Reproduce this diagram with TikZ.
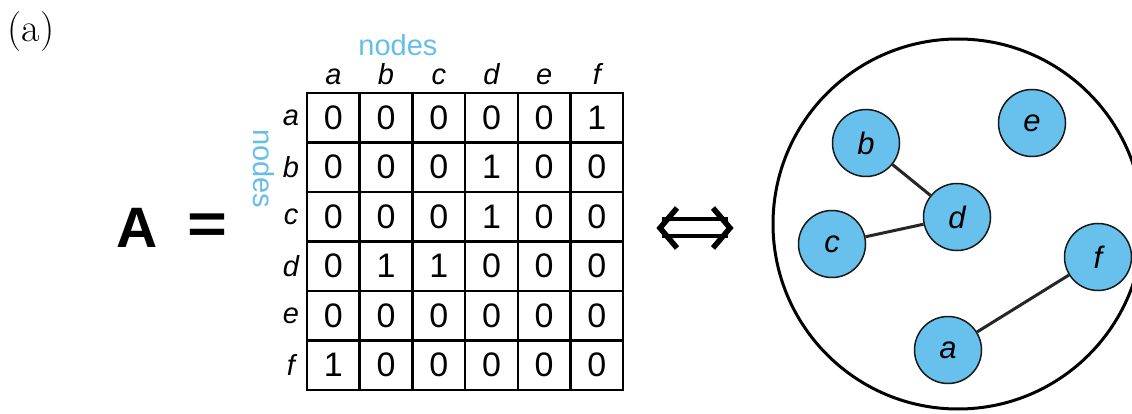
\documentclass[tikz,border=0pt]{standalone}
\usepackage{fontspec}
\newfontfamily\sansf{Liberation Sans}
\definecolor{nodeblue}{RGB}{104,193,236}
\definecolor{labelblue}{RGB}{100,190,235}
\newcommand\setfs[1]{\fontsize{#1}{#1}\selectfont}
\begin{document}
\begin{tikzpicture}[x=1pt,y=-1pt,
  cell/.style={draw, line width=2.5pt, minimum width=52.7pt, minimum height=49.5pt, inner sep=0pt, font=\sansf\setfs{34}},
  mlabel/.style={inner sep=0pt, font=\sansf\itshape\setfs{29}},
  blue label/.style={inner sep=0pt, text=labelblue, font=\sansf\setfs{29}},
  gnode/.style={circle, draw=black!90, line width=1.5pt, fill=nodeblue, minimum size=67pt, inner sep=0pt, font=\sansf\itshape\setfs{31}},
  gedge/.style={line width=3pt, draw=black!85},
  arrowpart/.style={line width=5.5pt, line join=miter, line cap=butt}
]
\useasboundingbox (0,0) rectangle (1132,414);

% panel label
\node (panel) at (31,32) {\setfs{40}(a)};

% A =
\node[inner sep=0pt, font=\sansf\bfseries\setfs{57}] (Asym) at (137,228) {A};
\node[inner sep=0pt, font=\sansf\bfseries\setfs{57}, xscale=1.2] (eqsym) at (207,229) {=};

% matrix
\foreach \row [count=\i] in {{0,0,0,0,0,1},{0,0,0,1,0,0},{0,0,0,1,0,0},{0,1,1,0,0,0},{0,0,0,0,0,0},{1,0,0,0,0,0}}{
  \foreach \v [count=\j] in \row {
    \node[cell] (m-\i-\j) at ({307+52.7*(\j-0.5)},{93+49.5*(\i-0.5)}) {\v};
  }
}
\foreach \l [count=\j] in {a,b,c,d,e,f}{
  \node[mlabel, anchor=base] (col-\j) at ({307+52.7*(\j-0.5)},85) {\l};
  \node[mlabel] (row-\j) at (291,{93+49.5*(\j-0.5)}) {\l};
}
\node[blue label] (topnodes) at (398,45) {nodes};
\node[blue label, rotate=-90] (sidenodes) at (264,169) {nodes};

% double arrow
\draw[arrowpart, line width=4.5pt] (662,219) -- (728,219);
\draw[arrowpart, line width=4.5pt] (662,236) -- (728,236);
\draw[arrowpart] (677,208) -- (660,228) -- (677,248);
\draw[arrowpart] (713,208) -- (730,228) -- (713,248);

% graph
\node[circle, draw, line width=3pt, minimum size=370pt, inner sep=0pt] (world) at (958,224) {};
\node[gnode] (b) at (866,143) {b};
\node[gnode] (e) at (1032,123) {e};
\node[gnode] (d) at (957,217) {d};
\node[gnode] (c) at (832,244) {c};
\node[gnode] (f) at (1098,257) {f};
\node[gnode] (a) at (948,350) {a};
\draw[gedge] (b) -- (d);
\draw[gedge] (c) -- (d);
\draw[gedge] (a) -- (f);
\end{tikzpicture}
\end{document}
